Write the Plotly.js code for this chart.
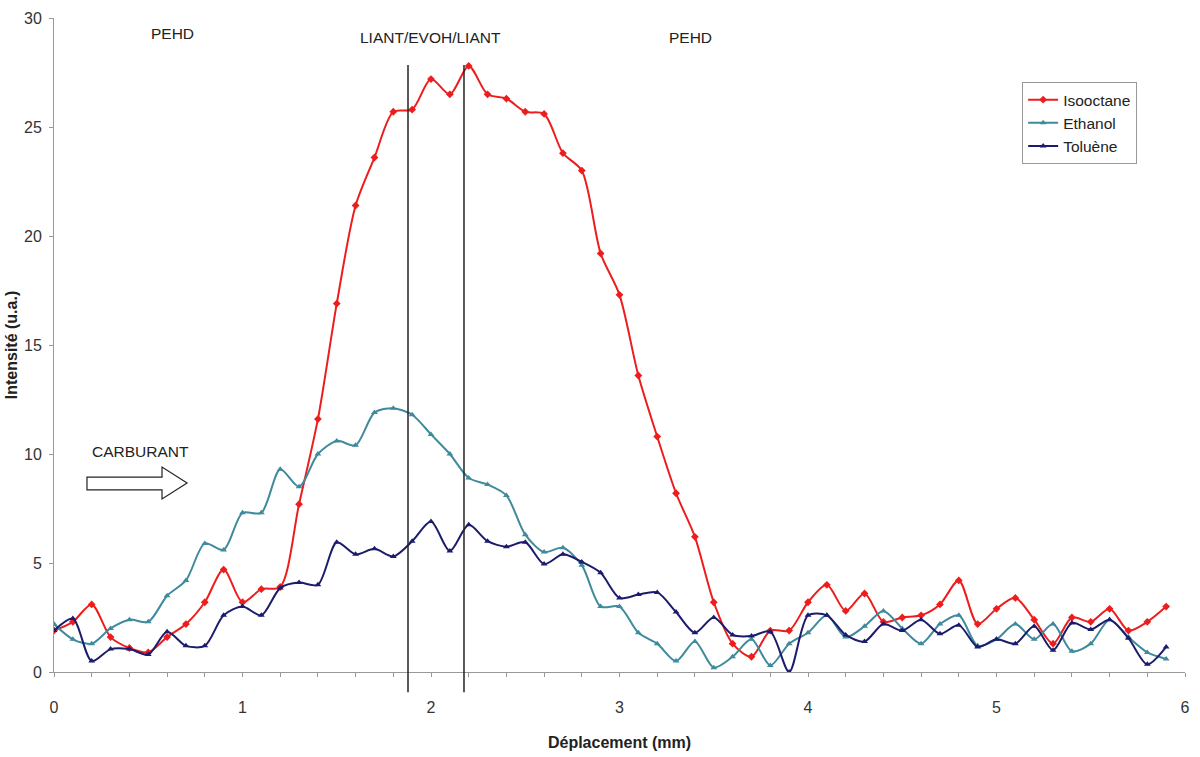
<!DOCTYPE html>
<html>
<head>
<meta charset="utf-8">
<script src="https://cdn.plot.ly/plotly-3.0.1.min.js"></script>
<style>html,body{margin:0;padding:0;background:#fff;}#chart{width:1200px;height:757px;}</style>
</head>
<body>
<div id="chart"></div>
<script>
const deplacement = [0,0.1,0.2,0.3,0.4,0.5,0.6,0.7,0.8,0.9,
  1.0,1.1,1.2,1.3,1.4,1.5,1.6,1.7,1.8,1.9,
  2.0,2.1,2.2,2.3,2.4,2.5,2.6,2.7,2.8,2.9,
  3.0,3.1,3.2,3.3,3.4,3.5,3.6,3.7,3.8,3.9,
  4.0,4.1,4.2,4.3,4.4,4.5,4.6,4.7,4.8,4.9,
  5.0,5.1,5.2,5.3,5.4,5.5,5.6,5.7,5.8,5.9];

const isooctane = [1.9,2.3,3.1,1.6,1.1,0.9,1.6,2.2,3.2,4.7,
  3.2,3.8,3.9,7.7,11.6,16.9,21.4,23.6,25.7,25.8,
  27.2,26.5,27.8,26.5,26.3,25.7,25.6,23.8,23.0,19.2,
  17.3,13.6,10.8,8.2,6.2,3.2,1.3,0.7,1.9,1.9,
  3.2,4.0,2.8,3.6,2.3,2.5,2.6,3.1,4.2,2.2,
  2.9,3.4,2.4,1.3,2.5,2.3,2.9,1.9,2.3,3.0];

const ethanol = [2.2,1.5,1.3,2.0,2.4,2.3,3.5,4.2,5.9,5.6,
  7.3,7.3,9.3,8.5,10.0,10.6,10.4,11.9,12.1,11.8,
  10.9,10.0,8.9,8.6,8.1,6.3,5.5,5.7,4.9,3.0,
  3.0,1.8,1.3,0.5,1.4,0.2,0.7,1.5,0.3,1.3,
  1.8,2.6,1.6,2.1,2.8,2.0,1.3,2.2,2.6,1.2,
  1.5,2.2,1.5,2.2,0.95,1.3,2.4,1.6,0.9,0.6];

const toluene = [1.9,2.45,0.5,1.05,1.05,0.8,1.85,1.2,1.2,2.6,
  3.0,2.6,3.85,4.1,4.0,5.95,5.4,5.65,5.3,6.0,
  6.9,5.55,6.75,6.0,5.75,5.95,4.95,5.4,5.05,4.55,
  3.4,3.55,3.65,2.75,1.8,2.5,1.7,1.65,1.85,0.0,
  2.6,2.6,1.7,1.4,2.2,1.9,2.4,1.75,2.15,1.15,
  1.5,1.3,2.1,1.0,2.25,1.95,2.4,1.55,0.35,1.15];

const seriesNames = ["Isooctane", "Ethanol", "Toluène"];
const layerBounds = [1.878, 2.175];
const zoneLabels = ["PEHD", "LIANT/EVOH/LIANT", "PEHD"];
const zoneLabelX = [0.626, 1.995, 3.374];
const xTickVals = [0,1,2,3,4,5,6];
const yTickVals = [0,5,10,15,20,25,30];

const FONT = '"Liberation Sans", Arial, sans-serif';

function trace(name, y, color, symbol) {
  return {
    x: deplacement, y: y, name: name, type: 'scatter', mode: 'lines+markers',
    line: {color: color, width: 2, shape: 'spline', smoothing: 0.8},
    marker: {color: color, symbol: symbol, size: 6},
    cliponaxis: true
  };
}

const data = [
  trace(seriesNames[0], isooctane, '#ee1d1d', 'diamond'),
  trace(seriesNames[1], ethanol, '#3f8a9c', 'triangle-up'),
  trace(seriesNames[2], toluene, '#1c1c6c', 'triangle-up')
];

const annotations = zoneLabels.map((t, i) => ({
  text: t, x: zoneLabelX[i], y: i === 0 ? 29.3 : 29.1, xref: 'x', yref: 'y',
  showarrow: false, font: {family: FONT, size: 15.5, color: '#222'}
}));
annotations.push({
  text: 'CARBURANT', x: 0.4615, y: 10.1, xref: 'x', yref: 'y', showarrow: false,
  font: {family: FONT, size: 15.5, color: '#222'}
});

const shapes = layerBounds.map(v => ({
  type: 'line', xref: 'paper', yref: 'paper', x0: v / 6, x1: v / 6,
  y0: -0.031, y1: 0.928, line: {color: '#222', width: 1.5}
}));
shapes.push({
  type: 'path', xref: 'x', yref: 'y',
  path: 'M 0.175 8.35 L 0.573 8.35 L 0.573 7.94 L 0.706 8.67 L 0.573 9.40 L 0.573 8.94 L 0.175 8.94 Z',
  line: {color: '#222', width: 1.2}, fillcolor: '#ffffff'
});

const layout = {
  width: 1200, height: 757,
  margin: {l: 54, r: 15, t: 18, b: 85},
  paper_bgcolor: '#fff', plot_bgcolor: '#fff',
  font: {family: FONT, color: '#333'},
  showlegend: true,
  legend: {
    x: 0.856, y: 0.902, xanchor: 'left', yanchor: 'top',
    bordercolor: '#999', borderwidth: 1, bgcolor: '#fff',
    font: {family: FONT, size: 15.5, color: '#222'},
    itemwidth: 30, tracegroupgap: 0
  },
  xaxis: {
    range: [0, 6], tickvals: xTickVals, ticks: 'outside', ticklen: 4, tickcolor: '#999',
    showline: true, linecolor: '#999', linewidth: 1, showgrid: false, zeroline: false,
    tickfont: {family: FONT, size: 16, color: '#333'}, ticklabelstandoff: 17,
    minor: {dtick: 0.2, tick0: 0, ticks: 'outside', ticklen: 4, tickcolor: '#999', showgrid: false},
    title: {text: '<b>Déplacement (mm)</b>', font: {family: FONT, size: 16, color: '#222'}, standoff: 21}
  },
  yaxis: {
    range: [0, 30], tickvals: yTickVals, ticks: 'outside', ticklen: 4, tickcolor: '#999',
    showline: true, linecolor: '#999', linewidth: 1, showgrid: false, zeroline: false,
    tickfont: {family: FONT, size: 16, color: '#333'}, ticklabelstandoff: 4,
    title: {text: '<b>Intensité (u.a.)</b>', font: {family: FONT, size: 16, color: '#222'}, standoff: 2}
  },
  annotations: annotations,
  shapes: shapes
};

Plotly.newPlot('chart', data, layout, {displayModeBar: false, staticPlot: true});
</script>
</body>
</html>
